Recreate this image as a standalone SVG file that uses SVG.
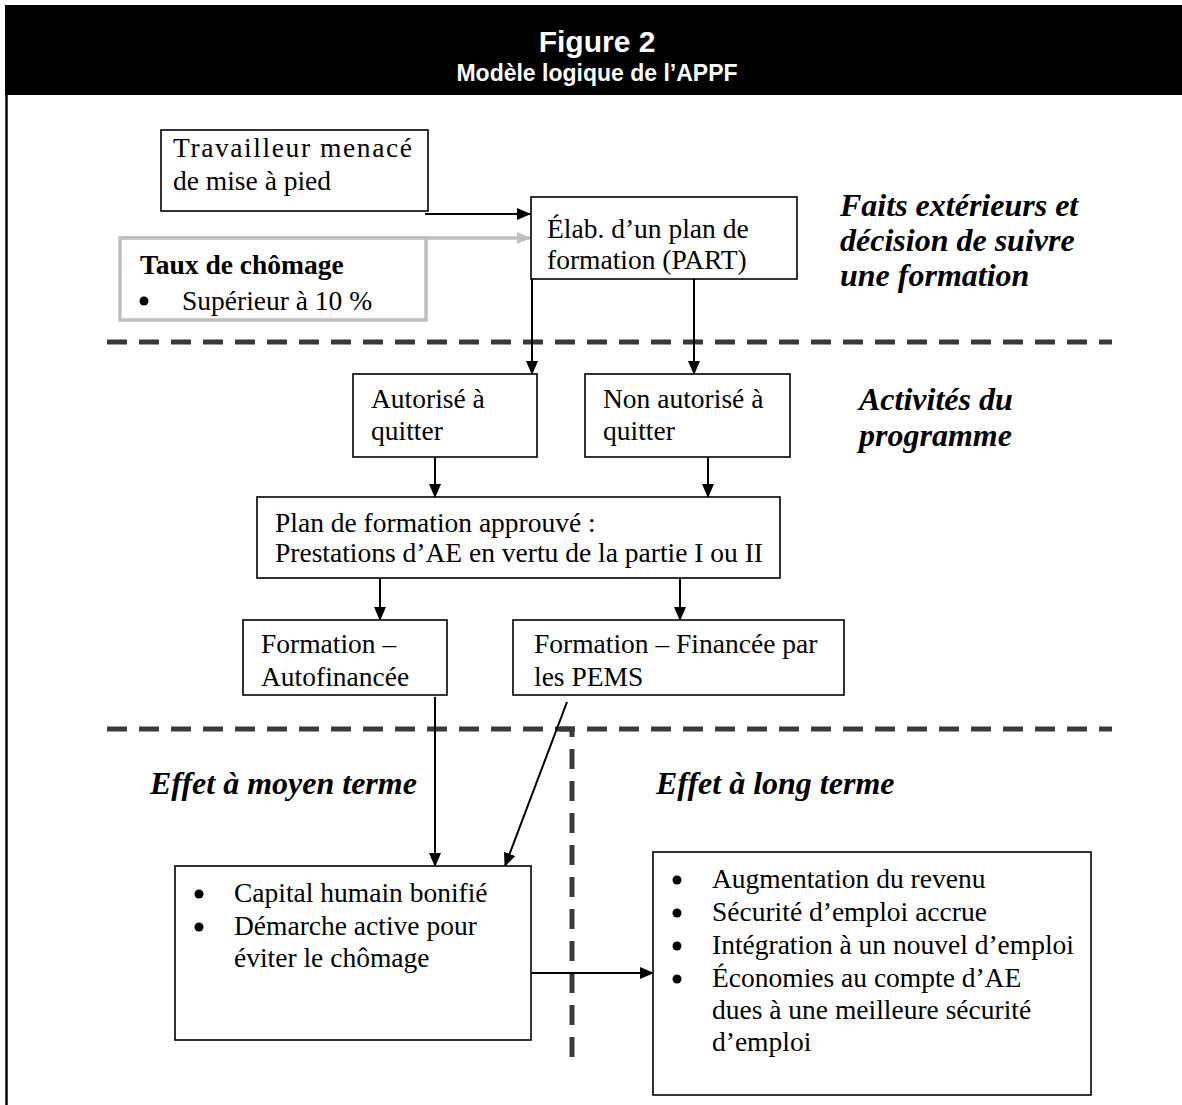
<svg xmlns="http://www.w3.org/2000/svg" width="1182" height="1105" viewBox="0 0 1182 1105">
<style>
.box{fill:#fff;stroke:#000;stroke-width:1.6}
.t{font-family:"Liberation Serif","Times New Roman",serif;font-size:27.5px;fill:#000}
.b{font-weight:bold}
.h{font-family:"Liberation Serif","Times New Roman",serif;font-size:32px;font-weight:bold;font-style:italic;fill:#000}
.c{stroke:#000;stroke-width:2;fill:none;marker-end:url(#ah)}
.dash{stroke:#3a3a3a;stroke-width:5;fill:none;stroke-dasharray:20 12}
.hd{font-family:"Liberation Sans",Arial,sans-serif;font-weight:bold;fill:#fff;text-anchor:middle}
</style>
<defs>
<marker id="ah" markerUnits="userSpaceOnUse" markerWidth="14" markerHeight="12" refX="13" refY="6" orient="auto">
<path d="M0,0 L14,6 L0,12 Z" fill="#000"/>
</marker>
<marker id="ahg" markerUnits="userSpaceOnUse" markerWidth="14" markerHeight="12" refX="13" refY="6" orient="auto">
<path d="M0,0 L14,6 L0,12 Z" fill="#bfbfbf"/>
</marker>
</defs>
<rect width="1182" height="1105" fill="#fff"/>
<g id="header">
<rect x="5" y="5" width="1177" height="90" fill="#000"/>
<text class="hd" x="597" y="52" font-size="30">Figure 2</text>
<text class="hd" x="597" y="81" font-size="23">Modèle logique de l’APPF</text>
</g>
<line x1="6.5" y1="94" x2="6.5" y2="1105" stroke="#000" stroke-width="2.5"/>

<g id="separators">
<line class="dash" x1="107" y1="342" x2="1112" y2="342"/>
<line class="dash" x1="107" y1="729" x2="1112" y2="729"/>
<path class="dash" d="M560,729 H572 V1065"/>
</g>

<g id="labels">
<text class="h" x="840" y="216">Faits extérieurs et</text>
<text class="h" x="840" y="251">décision de suivre</text>
<text class="h" x="840" y="286">une formation</text>
<text class="h" x="859" y="410">Activités du</text>
<text class="h" x="859" y="446">programme</text>
<text class="h" x="150" y="794">Effet à moyen terme</text>
<text class="h" x="656" y="794">Effet à long terme</text>
</g>

<g id="connectors">
<line class="c" x1="425" y1="214" x2="530" y2="214"/>
<line x1="120" y1="238" x2="530" y2="238" stroke="#bfbfbf" stroke-width="3.5" marker-end="url(#ahg)"/>
<line class="c" x1="532" y1="279" x2="532" y2="374"/>
<line class="c" x1="694" y1="279" x2="694" y2="374"/>
<line class="c" x1="435" y1="457" x2="435" y2="497"/>
<line class="c" x1="708" y1="457" x2="708" y2="497"/>
<line class="c" x1="380" y1="578" x2="380" y2="620"/>
<line class="c" x1="680" y1="578" x2="680" y2="620"/>
<line class="c" x1="435" y1="697" x2="435" y2="866"/>
<line class="c" x1="567" y1="702" x2="505" y2="866"/>
<line class="c" x1="531" y1="973" x2="653" y2="973"/>
</g>

<g id="travailleur">
<rect class="box" x="161" y="130" width="267" height="81"/>
<text class="t" x="173" y="157" textLength="239" lengthAdjust="spacing">Travailleur menacé</text>
<text class="t" x="173" y="190">de mise à pied</text>
</g>

<g id="taux">
<rect x="120" y="238" width="306" height="82" fill="#fff" stroke="#bfbfbf" stroke-width="3.5"/>
<text class="t b" x="140" y="274">Taux de chômage</text>
<circle cx="144" cy="301" r="4.5"/>
<text class="t" x="182" y="310">Supérieur à 10 %</text>
</g>

<g id="part">
<rect class="box" x="531" y="197" width="266" height="82"/>
<text class="t" x="547" y="238">Élab. d’un plan de</text>
<text class="t" x="547" y="269">formation (PART)</text>
</g>

<g id="autorise">
<rect class="box" x="353" y="374" width="184" height="83"/>
<text class="t" x="371" y="408">Autorisé à</text>
<text class="t" x="371" y="440">quitter</text>
</g>

<g id="nonautorise">
<rect class="box" x="585" y="374" width="205" height="83"/>
<text class="t" x="603" y="408">Non autorisé à</text>
<text class="t" x="603" y="440">quitter</text>
</g>

<g id="plan">
<rect class="box" x="257" y="497" width="523" height="81"/>
<text class="t" x="275" y="532">Plan de formation approuvé :</text>
<text class="t" x="275" y="562">Prestations d’AE en vertu de la partie I ou II</text>
</g>

<g id="autofinancee">
<rect class="box" x="243" y="620" width="204" height="75"/>
<text class="t" x="261" y="653">Formation –</text>
<text class="t" x="261" y="686">Autofinancée</text>
</g>

<g id="pems">
<rect class="box" x="513" y="620" width="331" height="75"/>
<text class="t" x="534" y="653">Formation – Financée par</text>
<text class="t" x="534" y="686">les PEMS</text>
</g>

<g id="capital">
<rect class="box" x="175" y="866" width="356" height="174"/>
<circle cx="199" cy="894" r="4.5"/>
<text class="t" x="234" y="902">Capital humain bonifié</text>
<circle cx="199" cy="927" r="4.5"/>
<text class="t" x="234" y="935">Démarche active pour</text>
<text class="t" x="234" y="967">éviter le chômage</text>
</g>

<g id="long">
<rect class="box" x="653" y="852" width="438" height="243"/>
<circle cx="677" cy="880" r="4.5"/>
<text class="t" x="712" y="888">Augmentation du revenu</text>
<circle cx="677" cy="913" r="4.5"/>
<text class="t" x="712" y="921">Sécurité d’emploi accrue</text>
<circle cx="677" cy="946" r="4.5"/>
<text class="t" x="712" y="954">Intégration à un nouvel d’emploi</text>
<circle cx="677" cy="979" r="4.5"/>
<text class="t" x="712" y="987">Économies au compte d’AE</text>
<text class="t" x="712" y="1019">dues à une meilleure sécurité</text>
<text class="t" x="712" y="1051">d’emploi</text>
</g>
</svg>
